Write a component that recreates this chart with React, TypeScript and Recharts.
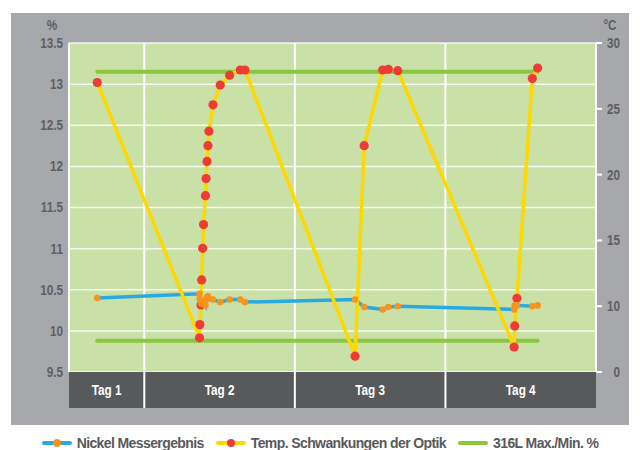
import { CartesianGrid, Line, LineChart, ReferenceLine, XAxis, YAxis } from 'recharts'

// time axis in hours: Tag 1 is a half day (12-24), the others full days
const hours = [
  16.5, 32.8, 32.85, 33.05, 33.15, 33.3, 33.45, 33.75, 33.85, 34.0, 34.15, 34.3, 34.95, 36.1, 37.6,
  39.3, 40.05, 57.6, 59.05, 62.0, 62.9, 64.4, 82.95, 83.05, 83.4, 85.85, 86.7,
]
const nickel = [
  10.4, 10.45, 10.39, 10.35, 10.33, 10.35, 10.35, 10.31, 10.38, 10.41, 10.42, 10.39, 10.38, 10.35,
  10.38, 10.38, 10.35, 10.38, 10.29, 10.26, 10.29, 10.3, 10.26, 10.31, 10.31, 10.3, 10.31,
]
const temperature = [
  27.0, 7.6, 8.6, 10.1, 12.0, 14.4, 16.2, 18.4, 19.7, 21.0, 22.2, 23.3, 25.3, 26.8, 27.55, 27.95,
  27.95, 6.2, 22.2, 27.95, 28.0, 27.9, 6.9, 8.5, 10.6, 27.3, 28.1,
]
const alloyMax = 13.15
const alloyMin = 9.88

const dayLabels = ['Tag 1', 'Tag 2', 'Tag 3', 'Tag 4']
const dayStarts = [12, 24, 48, 72]
const dayEnds = [24, 48, 72, 96]
const dayCenters = dayStarts.map((s, i) => (s + dayEnds[i]) / 2)

const percentTicks = [9.5, 10, 10.5, 11, 11.5, 12, 12.5, 13, 13.5]
const tempTicks = [5, 10, 15, 20, 25, 30]
const tempTickLabels = ['0', '10', '15', '20', '25', '30']

const legendItems = [
  { name: 'Nickel Messergebnis', line: '#27a9e1', dot: '#f7941d' },
  { name: 'Temp. Schwankungen der Optik', line: '#ffd800', dot: '#ee3b33' },
  { name: '316L Max./Min. %', line: '#8cc63f', dot: null },
]

const rows = hours.map((h, i) => ({
  h,
  ni: nickel[i],
  temp: temperature[i],
  max: alloyMax,
  min: alloyMin,
}))

const FONT = "'Liberation Sans', Arial, sans-serif"
const AXIS_GREY = '#5f6062'
const SQUEEZE = 0.84 // the original uses a condensed face
const W = 640
const H = 420
const margin = { top: 43, right: 4, bottom: 12, left: 19 }
const LEFT_W = 50
const RIGHT_W = 40
const BAND_H = 36
const plotW = W - margin.left - margin.right - LEFT_W - RIGHT_W
const pxPerHour = plotW / (dayEnds[dayEnds.length - 1] - dayStarts[0])

function NarrowText({ x, y, anchor, fill, children }: any) {
  return (
    <text
      transform={`translate(${x} ${y}) scale(${SQUEEZE} 1)`}
      dy="0.35em"
      textAnchor={anchor}
      fill={fill}
      fontFamily={FONT}
      fontWeight="bold"
      fontSize={14}
    >
      {children}
    </text>
  )
}

function DayTick(props: any) {
  const { x, y, index } = props
  const w = (dayEnds[index] - dayStarts[index]) * pxPerHour
  const left = x - w / 2
  return (
    <g>
      <rect x={left} y={y} width={w} height={BAND_H} fill="#58595b" />
      {index > 0 && <line x1={left} x2={left} y1={y} y2={y + BAND_H} stroke="#fff" strokeWidth={2} />}
      <NarrowText x={x} y={y + BAND_H / 2} anchor="middle" fill="#fff">
        {dayLabels[index]}
      </NarrowText>
    </g>
  )
}

function PctTick(props: any) {
  const { x, y, payload } = props
  return (
    <NarrowText x={x} y={y} anchor="end" fill={AXIS_GREY}>
      {String(payload.value)}
    </NarrowText>
  )
}

function TempTick(props: any) {
  const { x, y, index } = props
  return (
    <NarrowText x={x + 16} y={y} anchor="end" fill={AXIS_GREY}>
      {tempTickLabels[index]}
    </NarrowText>
  )
}

function UnitLabel(text: string, dx: number) {
  return (props: any) => {
    const { viewBox } = props
    return (
      <NarrowText x={viewBox.x + viewBox.width / 2 + dx} y={viewBox.y - 18} anchor="middle" fill={AXIS_GREY}>
        {text}
      </NarrowText>
    )
  }
}

function LegendIcon({ line, dot }: { line: string; dot: string | null }) {
  return (
    <svg width={30} height={12} style={{ marginRight: 5 }}>
      <line x1={2} x2={28} y1={6} y2={6} stroke={line} strokeWidth={4} strokeLinecap="round" />
      {dot && <circle cx={15} cy={6} r={4} fill={dot} />}
    </svg>
  )
}

export default function App() {
  return (
    <div style={{ position: 'absolute', left: 0, top: 0, width: 640, height: 450, background: '#fff' }}>
      <div style={{ position: 'absolute', left: 11, top: 13, width: 618, height: 412, background: '#a6a8ab' }} />
      <div style={{ position: 'absolute', left: 0, top: 0 }}>
        <LineChart width={W} height={H} data={rows} margin={margin}>
          <CartesianGrid vertical={false} stroke="#fff" strokeOpacity={0.85} strokeWidth={1.5} fill="#c9e0a7" fillOpacity={1} />
          <XAxis
            dataKey="h"
            type="number"
            domain={[dayStarts[0], dayEnds[dayEnds.length - 1]]}
            ticks={dayCenters}
            interval={0}
            tick={DayTick}
            tickLine={false}
            axisLine={false}
            tickSize={0}
            tickMargin={0}
            height={BAND_H}
          />
          <YAxis
            domain={[9.5, 13.5]}
            ticks={percentTicks}
            interval={0}
            width={LEFT_W}
            axisLine={{ stroke: '#fff', strokeWidth: 2 }}
            tickLine={false}
            tickSize={4}
            tickMargin={2}
            tick={PctTick}
            label={{ content: UnitLabel('%', 8) }}
          />
          <YAxis
            yAxisId="temp"
            orientation="right"
            domain={[5, 30]}
            ticks={tempTicks}
            interval={0}
            width={RIGHT_W}
            axisLine={{ stroke: '#fff', strokeWidth: 2 }}
            tickLine={{ stroke: '#fff', strokeWidth: 2 }}
            tickSize={6}
            tickMargin={2}
            tick={TempTick}
            label={{ content: UnitLabel('°C', -6) }}
          />
          {dayStarts.slice(1).map((d) => (
            <ReferenceLine key={d} x={d} stroke="#fff" strokeWidth={2} />
          ))}
          <Line dataKey="max" type="linear" stroke="#8cc63f" strokeWidth={4} strokeLinecap="round" dot={false} isAnimationActive={false} />
          <Line dataKey="min" type="linear" stroke="#8cc63f" strokeWidth={4} strokeLinecap="round" dot={false} isAnimationActive={false} />
          <Line dataKey="ni" type="linear" stroke="#27a9e1" strokeWidth={3.5} dot={false} isAnimationActive={false} />
          <Line
            yAxisId="temp"
            dataKey="temp"
            type="linear"
            stroke="#ffd800"
            strokeWidth={3.5}
            dot={{ r: 4.6, fill: '#ee3b33', stroke: 'none', strokeWidth: 0 }}
            isAnimationActive={false}
          />
          <Line
            dataKey="ni"
            type="linear"
            stroke="none"
            dot={{ r: 3.3, fill: '#f7941d', stroke: 'none', strokeWidth: 0 }}
            isAnimationActive={false}
          />
        </LineChart>
      </div>
      <div
        style={{
          position: 'absolute',
          left: 0,
          top: 435,
          width: 640,
          display: 'flex',
          justifyContent: 'center',
          gap: 12,
          fontFamily: FONT,
          fontWeight: 'bold',
          fontSize: 14,
          letterSpacing: -0.6,
          color: '#58595b',
          whiteSpace: 'nowrap',
        }}
      >
        {legendItems.map((item) => (
          <div key={item.name} style={{ display: 'flex', alignItems: 'center' }}>
            <LegendIcon line={item.line} dot={item.dot} />
            {item.name}
          </div>
        ))}
      </div>
    </div>
  )
}
